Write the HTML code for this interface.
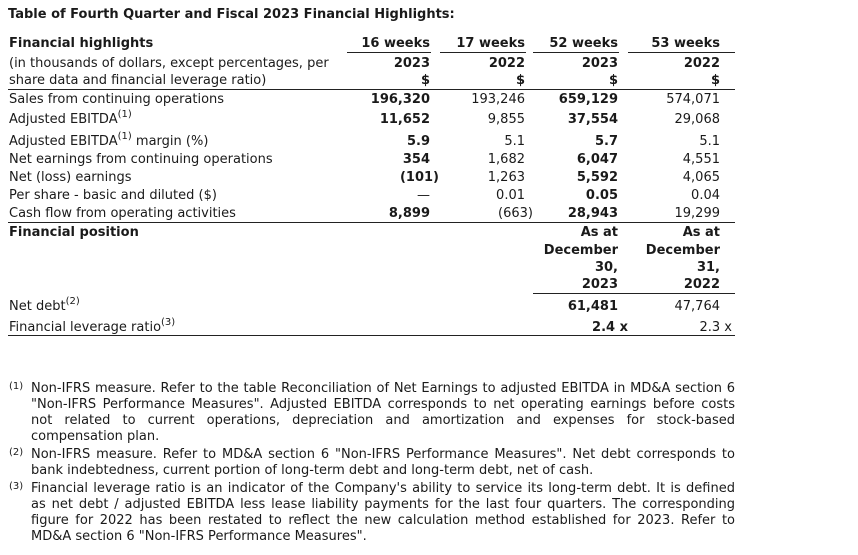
<!DOCTYPE html>
<html><head><meta charset="utf-8"><style>
body{margin:0;width:858px;height:554px;background:#fff;position:relative;font-family:"DejaVu Sans","Liberation Sans",sans-serif;font-size:13px;color:#1a1a1a;overflow:hidden}
.w{position:absolute;left:0;top:1px;width:858px;height:554px}
.t{position:absolute;white-space:nowrap;line-height:16px}
.r{text-align:right}
.b{font-weight:bold}
.l{position:absolute;height:1px;background:#222}
sup{font-size:10px;vertical-align:6px;line-height:0}
.fn{position:absolute;left:31px;width:704px;line-height:16px;white-space:nowrap}
.j{text-align:justify;text-align-last:justify}
.fm{position:absolute;left:9px;font-size:10px;line-height:12px}
</style></head><body><div class="w">
<div class="t b" style="left:8px;top:6px">Table of Fourth Quarter and Fiscal 2023 Financial Highlights:</div>

<div class="t b" style="left:9px;top:35px">Financial highlights</div>
<div class="t" style="left:9px;top:55px">(in thousands of dollars, except percentages, per</div>
<div class="t" style="left:9px;top:72px">share data and financial leverage ratio)</div>

<div class="t b r" style="right:428px;top:35px">16 weeks</div>
<div class="t b r" style="right:333px;top:35px">17 weeks</div>
<div class="t b r" style="right:240px;top:35px">52 weeks</div>
<div class="t b r" style="right:138px;top:35px">53 weeks</div>
<div class="l" style="left:347px;width:84px;top:51px"></div>
<div class="l" style="left:440px;width:86px;top:51px"></div>
<div class="l" style="left:533px;width:86px;top:51px"></div>
<div class="l" style="left:628px;width:107px;top:51px"></div>

<div class="t b r" style="right:428px;top:55px">2023</div>
<div class="t b r" style="right:333px;top:55px">2022</div>
<div class="t b r" style="right:240px;top:55px">2023</div>
<div class="t b r" style="right:138px;top:55px">2022</div>
<div class="t b r" style="right:428px;top:72px">$</div>
<div class="t b r" style="right:333px;top:72px">$</div>
<div class="t b r" style="right:240px;top:72px">$</div>
<div class="t b r" style="right:138px;top:72px">$</div>
<div class="l" style="left:8px;width:727px;top:88px"></div>

<div class="t" style="left:9px;top:91px">Sales from continuing operations</div>
<div class="t" style="left:9px;top:111px">Adjusted EBITDA<sup>(1)</sup></div>
<div class="t" style="left:9px;top:133px">Adjusted EBITDA<sup>(1)</sup> margin (%)</div>
<div class="t" style="left:9px;top:151px">Net earnings from continuing operations</div>
<div class="t" style="left:9px;top:169px">Net (loss) earnings</div>
<div class="t" style="left:9px;top:187px">Per share - basic and diluted ($)</div>
<div class="t" style="left:9px;top:205px">Cash flow from operating activities</div>

<div class="t b r" style="right:428px;top:91px">196,320</div>
<div class="t r" style="right:333px;top:91px">193,246</div>
<div class="t b r" style="right:240px;top:91px">659,129</div>
<div class="t r" style="right:138px;top:91px">574,071</div>

<div class="t b r" style="right:428px;top:111px">11,652</div>
<div class="t r" style="right:333px;top:111px">9,855</div>
<div class="t b r" style="right:240px;top:111px">37,554</div>
<div class="t r" style="right:138px;top:111px">29,068</div>

<div class="t b r" style="right:428px;top:133px">5.9</div>
<div class="t r" style="right:333px;top:133px">5.1</div>
<div class="t b r" style="right:240px;top:133px">5.7</div>
<div class="t r" style="right:138px;top:133px">5.1</div>

<div class="t b r" style="right:428px;top:151px">354</div>
<div class="t r" style="right:333px;top:151px">1,682</div>
<div class="t b r" style="right:240px;top:151px">6,047</div>
<div class="t r" style="right:138px;top:151px">4,551</div>

<div class="t b r" style="right:419px;top:169px">(101)</div>
<div class="t r" style="right:333px;top:169px">1,263</div>
<div class="t b r" style="right:240px;top:169px">5,592</div>
<div class="t r" style="right:138px;top:169px">4,065</div>

<div class="t r" style="right:428px;top:187px">—</div>
<div class="t r" style="right:333px;top:187px">0.01</div>
<div class="t b r" style="right:240px;top:187px">0.05</div>
<div class="t r" style="right:138px;top:187px">0.04</div>

<div class="t b r" style="right:428px;top:205px">8,899</div>
<div class="t r" style="right:325px;top:205px">(663)</div>
<div class="t b r" style="right:240px;top:205px">28,943</div>
<div class="t r" style="right:138px;top:205px">19,299</div>
<div class="l" style="left:8px;width:727px;top:221px"></div>

<div class="t b" style="left:9px;top:224px">Financial position</div>
<div class="t b r" style="right:240px;top:224px">As at</div>
<div class="t b r" style="right:138px;top:224px">As at</div>
<div class="t b r" style="right:240px;top:242px">December</div>
<div class="t b r" style="right:138px;top:242px">December</div>
<div class="t b r" style="right:240px;top:259px">30,</div>
<div class="t b r" style="right:138px;top:259px">31,</div>
<div class="t b r" style="right:240px;top:276px">2023</div>
<div class="t b r" style="right:138px;top:276px">2022</div>
<div class="l" style="left:533px;width:202px;top:292px"></div>

<div class="t" style="left:9px;top:298px">Net debt<sup>(2)</sup></div>
<div class="t b r" style="right:240px;top:298px">61,481</div>
<div class="t r" style="right:138px;top:298px">47,764</div>
<div class="t" style="left:9px;top:319px">Financial leverage ratio<sup>(3)</sup></div>
<div class="t b r" style="right:230px;top:319px">2.4 x</div>
<div class="t r" style="right:126px;top:319px">2.3 x</div>
<div class="l" style="left:8px;width:727px;top:334px"></div>

<div class="fm" style="top:380px">(1)</div>
<div class="fn j" style="top:380px">Non-IFRS measure. Refer to the table Reconciliation of Net Earnings to adjusted EBITDA in MD&amp;A section 6</div>
<div class="fn j" style="top:396px">"Non-IFRS Performance Measures". Adjusted EBITDA corresponds to net operating earnings before costs</div>
<div class="fn j" style="top:412px">not related to current operations, depreciation and amortization and expenses for stock-based</div>
<div class="fn" style="top:428px">compensation plan.</div>
<div class="fm" style="top:446px">(2)</div>
<div class="fn j" style="top:446px">Non-IFRS measure. Refer to MD&amp;A section 6 "Non-IFRS Performance Measures". Net debt corresponds to</div>
<div class="fn" style="top:462px">bank indebtedness, current portion of long-term debt and long-term debt, net of cash.</div>
<div class="fm" style="top:480px">(3)</div>
<div class="fn j" style="top:480px">Financial leverage ratio is an indicator of the Company's ability to service its long-term debt. It is defined</div>
<div class="fn j" style="top:496px">as net debt / adjusted EBITDA less lease liability payments for the last four quarters. The corresponding</div>
<div class="fn j" style="top:512px">figure for 2022 has been restated to reflect the new calculation method established for 2023. Refer to</div>
<div class="fn" style="top:528px">MD&amp;A section 6 "Non-IFRS Performance Measures".</div>
</div></body></html>
